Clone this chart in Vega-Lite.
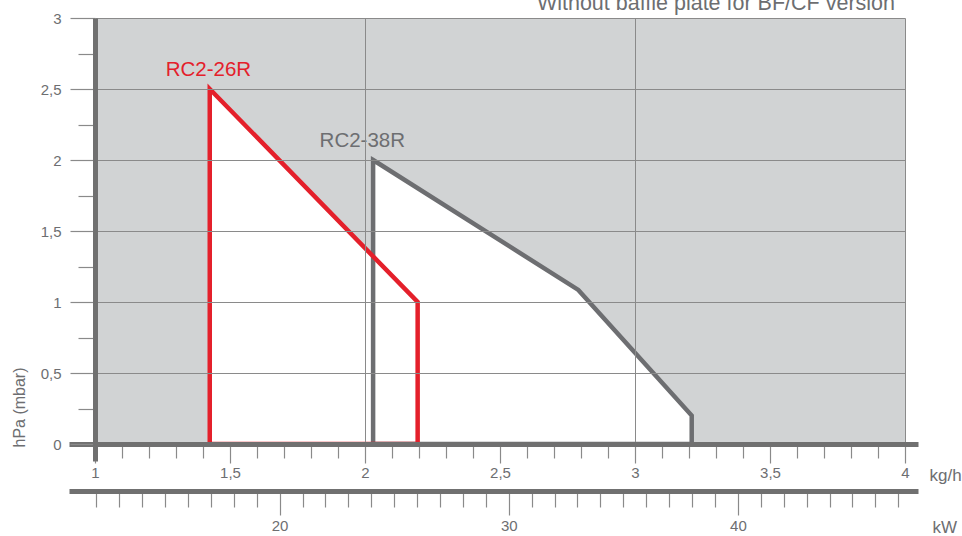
{
  "$schema": "https://vega.github.io/schema/vega-lite/v6.json",
  "width": 810,
  "height": 426,
  "autosize": {"type": "none"},
  "padding": {"left": 95, "top": 18, "right": 57, "bottom": 92},
  "background": "white",
  "config": {"view": {"fill": "#d1d3d4", "stroke": null}, "font": "Liberation Sans"},
  "title": {"text": "Without baffle plate for BF/CF version", "anchor": "end", "frame": "group", "orient": "top", "fontSize": 21.5, "fontWeight": "normal", "font": "Liberation Sans", "color": "#6d6e71", "baseline": "alphabetic", "offset": 0, "dx": -10, "dy": 20},
  "datasets": {
    "outline": [
      {"model": "RC2-38R", "kgh": 2.03, "hpa": 2.0},
      {"model": "RC2-38R", "kgh": 2.79, "hpa": 1.085},
      {"model": "RC2-38R", "kgh": 3.21, "hpa": 0.2},
      {"model": "RC2-26R", "kgh": 1.425, "hpa": 2.5},
      {"model": "RC2-26R", "kgh": 2.195, "hpa": 1.0}
    ],
    "labels": [
      {"model": "RC2-26R", "kgh": 1.42, "hpa": 2.59},
      {"model": "RC2-38R", "kgh": 1.99, "hpa": 2.09}
    ],
    "kw": [{"kW": 20}, {"kW": 30}, {"kW": 40}]
  },
  "layer": [
    {
      "data": {"name": "outline"},
      "mark": {"type": "point", "opacity": 0},
      "encoding": {
        "x": {
          "field": "kgh", "type": "quantitative",
          "scale": {"domain": [1, 4], "nice": false, "zero": false},
          "axis": {"orient": "bottom", "values": [2, 3, 4], "domain": false, "ticks": false, "labels": false, "title": null,
            "grid": true, "gridColor": "#8a8a8a", "gridWidth": 1, "zindex": 1}
        },
        "y": {
          "field": "hpa", "type": "quantitative",
          "scale": {"domain": [0, 3], "nice": false, "zero": false},
          "axis": {"orient": "left", "values": [0.5, 1, 1.5, 2, 2.5, 3], "domain": false, "ticks": false, "labels": false, "title": null,
            "grid": true, "gridColor": "#8a8a8a", "gridWidth": 1, "zindex": 1}
        }
      }
    },
    {
      "encoding": {
        "x": {
          "field": "kgh", "type": "quantitative",
          "scale": {"domain": [0.9037, 4.0481], "range": [-26, 823], "nice": false, "zero": false},
          "axis": {
            "orient": "bottom",
            "values": [1,1.1,1.2,1.3,1.4,1.5,1.6,1.7,1.8,1.9,2,2.1,2.2,2.3,2.4,2.5,2.6,2.7,2.8,2.9,3,3.1,3.2,3.3,3.4,3.5,3.6,3.7,3.8,3.9,4],
            "title": "kg/h", "titleX": 834, "titleY": 31, "titleAlign": "left", "titleBaseline": "middle", "titleAngle": 0,
            "titleFontSize": 17, "titleFontWeight": "normal", "titleColor": "#6d6e71", "titleFont": "Liberation Sans",
            "domainColor": "#707070", "domainWidth": 5, "domainCap": "butt",
            "tickColor": "#8a8a8a", "tickWidth": 1.2,
            "tickSize": {"condition": {"test": "round(datum.value*10) % 5 === 0", "value": 19}, "value": 14},
            "labelExpr": "round(datum.value*10) % 5 === 0 ? replace(format(datum.value,'~g'),'.',',') : ''",
            "labelOverlap": false, "labelFlush": false, "labelPadding": 2, "labelFontSize": 15, "labelColor": "#6d6e71", "labelFont": "Liberation Sans",
            "grid": false,
            "zindex": 1
          }
        },
        "y": {
          "field": "hpa", "type": "quantitative",
          "scale": {"domain": [-0.1197, 3], "range": [443, 0], "nice": false, "zero": false},
          "axis": {
            "orient": "left",
            "values": [0,0.25,0.5,0.75,1,1.25,1.5,1.75,2,2.25,2.5,2.75,3],
            "title": "hPa (mbar)", "titleX": -76, "titleY": 429, "titleAngle": 270, "titleAlign": "left", "titleBaseline": "middle",
            "titleFontSize": 16, "titleFontWeight": "normal", "titleColor": "#6d6e71", "titleFont": "Liberation Sans",
            "domainColor": "#707070", "domainWidth": 5, "domainCap": "butt",
            "tickColor": "#8a8a8a", "tickWidth": 1.2,
            "tickSize": {"condition": {"test": "datum.value % 0.5 === 0", "value": 25}, "value": 17},
            "labelExpr": "datum.value % 0.5 === 0 ? replace(format(datum.value,'~g'),'.',',') : ''",
            "labelOverlap": false, "labelFlush": false, "labelPadding": 9, "labelFontSize": 15, "labelColor": "#6d6e71", "labelFont": "Liberation Sans",
            "grid": false,
            "zindex": 1
          }
        }
      },
      "layer": [
        {
          "data": {"name": "outline"},
          "transform": [{"filter": "datum.model === 'RC2-38R'"}],
          "mark": {"type": "area", "fill": "white", "fillOpacity": 1},
          "encoding": {"y2": {"datum": 0}}
        },
        {
          "data": {"name": "outline"},
          "transform": [{"filter": "datum.model === 'RC2-26R'"}],
          "mark": {"type": "area", "fill": "white", "fillOpacity": 1},
          "encoding": {"y2": {"datum": 0}}
        },
        {
          "data": {"name": "outline"},
          "transform": [{"filter": "datum.model === 'RC2-38R'"}],
          "mark": {"type": "area", "fill": "white", "fillOpacity": 0, "stroke": "#6d6e71", "strokeWidth": 4.5, "strokeJoin": "miter"},
          "encoding": {"y2": {"datum": 0}}
        },
        {
          "data": {"name": "outline"},
          "transform": [{"filter": "datum.model === 'RC2-26R'"}],
          "mark": {"type": "area", "fill": "white", "fillOpacity": 0, "stroke": "#e4202b", "strokeWidth": 4.5, "strokeJoin": "miter"},
          "encoding": {"y2": {"datum": 0}}
        },
        {
          "data": {"name": "labels"},
          "mark": {"type": "text", "fontSize": 20.5, "baseline": "alphabetic", "align": "center", "font": "Liberation Sans"},
          "encoding": {
            "text": {"field": "model"},
            "color": {"field": "model", "type": "nominal", "scale": {"domain": ["RC2-26R", "RC2-38R"], "range": ["#e4202b", "#6d6e71"]}, "legend": null}
          }
        }
      ]
    },
    {
      "data": {"name": "kw"},
      "mark": {"type": "point", "opacity": 0},
      "encoding": {
        "x": {
          "field": "kW", "type": "quantitative",
          "scale": {"domain": [10.81, 47.86], "range": [-26, 823], "nice": false, "zero": false},
          "axis": {
            "orient": "bottom", "offset": 47,
            "values": [12,13,14,15,16,17,18,19,20,21,22,23,24,25,26,27,28,29,30,31,32,33,34,35,36,37,38,39,40,41,42,43,44,45,46,47],
            "title": "kW", "titleX": 837, "titleY": 36, "titleAlign": "left", "titleBaseline": "middle", "titleAngle": 0,
            "titleFontSize": 17, "titleFontWeight": "normal", "titleColor": "#6d6e71", "titleFont": "Liberation Sans",
            "domainColor": "#707070", "domainWidth": 5, "domainCap": "butt",
            "tickColor": "#8a8a8a", "tickWidth": 1.2,
            "tickSize": {"condition": {"test": "datum.value % 10 === 0", "value": 24}, "value": 16},
            "labelExpr": "datum.value % 10 === 0 ? datum.label : ''",
            "labelOverlap": false, "labelFlush": false, "labelPadding": 3, "labelFontSize": 15, "labelColor": "#6d6e71", "labelFont": "Liberation Sans",
            "grid": false,
            "zindex": 1
          }
        }
      }
    }
  ],
  "resolve": {"scale": {"x": "independent", "y": "independent"}, "axis": {"x": "independent", "y": "independent"}}
}
